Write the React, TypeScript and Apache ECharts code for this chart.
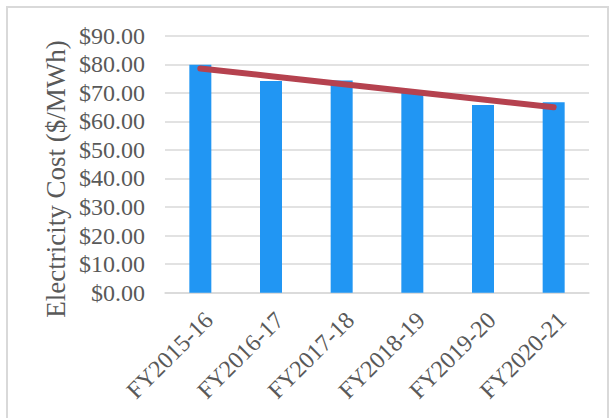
import React, { useEffect, useRef } from "react";
import * as echarts from "echarts";

// Fiscal years shown on the category axis
const fiscalYears = ["FY2015-16", "FY2016-17", "FY2017-18", "FY2018-19", "FY2019-20", "FY2020-21"];
// Average electricity cost per year, $/MWh
const costPerMWh = [79.8, 74.1, 74.3, 69.9, 65.7, 66.7];
// Value-axis ticks ($)
const yTicks = [0, 10, 20, 30, 40, 50, 60, 70, 80, 90];

// Ordinary least-squares linear trend over the yearly costs
function linearTrend(values: number[]): number[] {
  const n = values.length;
  const xs = values.map((_, i) => i + 1);
  const mx = xs.reduce((a, b) => a + b, 0) / n;
  const my = values.reduce((a, b) => a + b, 0) / n;
  let sxy = 0;
  let sxx = 0;
  xs.forEach((x, i) => {
    sxy += (x - mx) * (values[i] - my);
    sxx += (x - mx) * (x - mx);
  });
  const slope = sxy / sxx;
  return xs.map((x) => +(my + slope * (x - mx)).toFixed(3));
}

const FONT = '"Liberation Serif", serif';
const GRID_GREY = "#d9d9d9";
const TEXT_GREY = "#595959";

export default function App() {
  const ref = useRef<HTMLDivElement>(null);

  useEffect(() => {
    if (!ref.current) return;
    const chart = echarts.init(ref.current, null, { renderer: "svg" });
    const trend = linearTrend(costPerMWh);

    chart.setOption({
      animation: false,
      backgroundColor: "#ffffff",
      grid: { left: 165, right: 26, top: 35.7, bottom: 125.3 },
      graphic: [
        {
          type: "rect",
          shape: { x: 7, y: 7, width: 601, height: 430 },
          style: { fill: "none", stroke: GRID_GREY, lineWidth: 2 },
          silent: true,
        },
        {
          type: "text",
          x: 56,
          y: 179,
          rotation: Math.PI / 2,
          style: {
            text: "Electricity Cost ($/MWh)",
            font: `27px ${FONT}`,
            fill: TEXT_GREY,
            align: "center",
            verticalAlign: "middle",
          },
          silent: true,
        },
      ],
      xAxis: {
        type: "category",
        data: fiscalYears,
        axisLine: { show: true, lineStyle: { color: GRID_GREY, width: 1.5 } },
        axisTick: { show: false },
        axisLabel: {
          rotate: 45,
          interval: 0,
          margin: 15,
          verticalAlign: "top",
          color: TEXT_GREY,
          fontFamily: FONT,
          fontSize: 24,
        },
      },
      yAxis: {
        type: "value",
        min: yTicks[0],
        max: yTicks[yTicks.length - 1],
        interval: yTicks[1] - yTicks[0],
        axisLine: { show: false },
        axisTick: { show: false },
        splitLine: { lineStyle: { color: GRID_GREY, width: 1.5 } },
        axisLabel: {
          margin: 20,
          color: TEXT_GREY,
          fontFamily: FONT,
          fontSize: 24,
          formatter: (v: number) => `$${v.toFixed(2)}`,
        },
      },
      series: [
        {
          type: "bar",
          data: costPerMWh,
          barWidth: 22,
          itemStyle: { color: "#2196F3" },
        },
        {
          type: "line",
          data: trend,
          symbol: "none",
          z: 5,
          lineStyle: { color: "#B5424F", width: 6, cap: "round" },
        },
      ],
    });

    return () => chart.dispose();
  }, []);

  return (
    <div
      ref={ref}
      style={{ position: "fixed", left: 0, top: 0, width: 615, height: 418 }}
    />
  );
}
